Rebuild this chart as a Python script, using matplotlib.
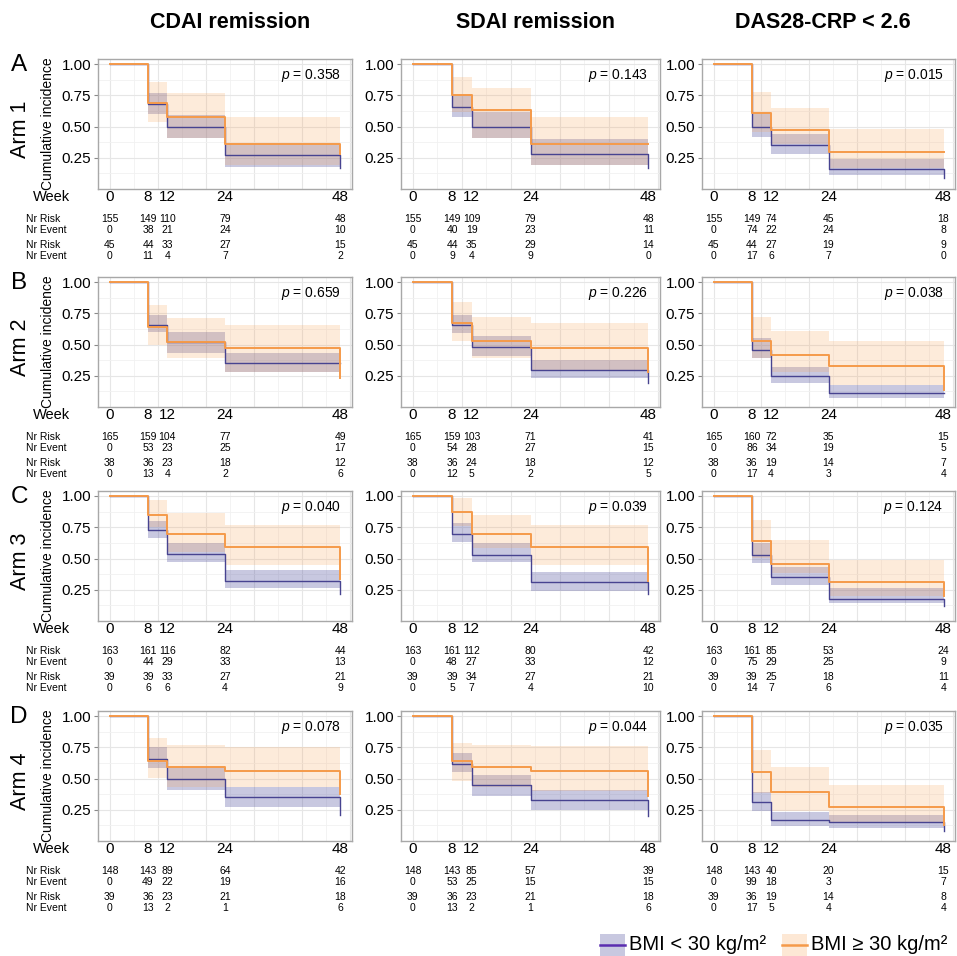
import matplotlib
matplotlib.use("Agg")
import matplotlib.pyplot as plt
from matplotlib.patches import Rectangle
from matplotlib.lines import Line2D
from matplotlib.ticker import MultipleLocator
from matplotlib import transforms

plt.rcParams['font.family'] = ['Liberation Sans', 'DejaVu Sans']
plt.rcParams['mathtext.fontset'] = 'custom'
plt.rcParams['mathtext.it'] = 'Liberation Sans:italic'
plt.rcParams['mathtext.rm'] = 'Liberation Sans'

weeks = [0, 8, 12, 24, 48]
outcomes = ["CDAI remission", "SDAI remission", "DAS28-CRP < 2.6"]
arms = ["Arm 1", "Arm 2", "Arm 3", "Arm 4"]
letters = ["A", "B", "C", "D"]

# panels in reading order: A1 A2 A3, B1 B2 B3, C1 C2 C3, D1 D2 D3
p_values = ["0.358", "0.143", "0.015",
            "0.659", "0.226", "0.038",
            "0.040", "0.039", "0.124",
            "0.078", "0.044", "0.035"]

# BMI < 30: curve value after week 8, 12, 24 and the drop at 48
low_est = [[0.68, 0.50, 0.27, 0.17], [0.66, 0.50, 0.28, 0.17], [0.50, 0.35, 0.16, 0.09],
           [0.66, 0.52, 0.35, 0.35], [0.66, 0.48, 0.30, 0.19], [0.46, 0.25, 0.11, 0.11],
           [0.73, 0.54, 0.32, 0.22], [0.70, 0.53, 0.31, 0.22], [0.53, 0.35, 0.18, 0.12],
           [0.66, 0.50, 0.35, 0.21], [0.62, 0.45, 0.33, 0.20], [0.31, 0.17, 0.15, 0.08]]
low_lo = [[0.60, 0.41, 0.18], [0.58, 0.41, 0.19], [0.42, 0.28, 0.11],
          [0.60, 0.43, 0.28], [0.59, 0.41, 0.23], [0.39, 0.19, 0.07],
          [0.66, 0.47, 0.26], [0.63, 0.47, 0.24], [0.46, 0.29, 0.14],
          [0.58, 0.41, 0.27], [0.55, 0.36, 0.25], [0.24, 0.12, 0.10]]
low_hi = [[0.77, 0.59, 0.36], [0.75, 0.62, 0.40], [0.60, 0.44, 0.24],
          [0.74, 0.60, 0.43], [0.74, 0.57, 0.38], [0.55, 0.32, 0.18],
          [0.80, 0.62, 0.41], [0.78, 0.62, 0.39], [0.62, 0.43, 0.26],
          [0.75, 0.59, 0.43], [0.70, 0.53, 0.41], [0.39, 0.23, 0.21]]

# BMI >= 30
high_est = [[0.69, 0.58, 0.36, 0.28], [0.75, 0.63, 0.36, 0.36], [0.61, 0.47, 0.30, 0.30],
            [0.64, 0.52, 0.47, 0.23], [0.67, 0.53, 0.47, 0.28], [0.53, 0.42, 0.33, 0.14],
            [0.85, 0.70, 0.59, 0.34], [0.87, 0.70, 0.59, 0.32], [0.64, 0.46, 0.31, 0.20],
            [0.64, 0.59, 0.56, 0.38], [0.64, 0.59, 0.56, 0.36], [0.55, 0.39, 0.27, 0.13]]
high_lo = [[0.54, 0.41, 0.19], [0.62, 0.41, 0.19], [0.46, 0.36, 0.17],
           [0.50, 0.39, 0.28], [0.53, 0.39, 0.30], [0.39, 0.28, 0.18],
           [0.75, 0.55, 0.45], [0.76, 0.58, 0.45], [0.50, 0.38, 0.20],
           [0.50, 0.43, 0.43], [0.48, 0.43, 0.40], [0.38, 0.24, 0.14]]
high_hi = [[0.86, 0.77, 0.58], [0.90, 0.81, 0.58], [0.78, 0.65, 0.48],
           [0.82, 0.71, 0.66], [0.84, 0.72, 0.67], [0.72, 0.61, 0.53],
           [0.97, 0.86, 0.77], [0.98, 0.85, 0.77], [0.81, 0.65, 0.49],
           [0.82, 0.77, 0.75], [0.78, 0.77, 0.76], [0.73, 0.59, 0.45]]

risk_low = [[155, 149, 110, 79, 48], [155, 149, 109, 79, 48], [155, 149, 74, 45, 18],
            [165, 159, 104, 77, 49], [165, 159, 103, 71, 41], [165, 160, 72, 35, 15],
            [163, 161, 116, 82, 44], [163, 161, 112, 80, 42], [163, 161, 85, 53, 24],
            [148, 143, 89, 64, 42], [148, 143, 85, 57, 39], [148, 143, 40, 20, 15]]
event_low = [[0, 38, 21, 24, 10], [0, 40, 19, 23, 11], [0, 74, 22, 24, 8],
             [0, 53, 23, 25, 17], [0, 54, 28, 27, 15], [0, 86, 34, 19, 5],
             [0, 44, 29, 33, 13], [0, 48, 27, 33, 12], [0, 75, 29, 25, 9],
             [0, 49, 22, 19, 16], [0, 53, 25, 15, 15], [0, 99, 18, 3, 7]]
risk_high = [[45, 44, 33, 27, 15], [45, 44, 35, 29, 14], [45, 44, 27, 19, 9],
             [38, 36, 23, 18, 12], [38, 36, 24, 18, 12], [38, 36, 19, 14, 7],
             [39, 39, 33, 27, 21], [39, 39, 34, 27, 21], [39, 39, 25, 18, 11],
             [39, 36, 23, 21, 18], [39, 36, 23, 21, 18], [39, 36, 19, 14, 8]]
event_high = [[0, 11, 4, 7, 2], [0, 9, 4, 9, 0], [0, 17, 6, 7, 0],
              [0, 13, 4, 2, 6], [0, 12, 5, 2, 5], [0, 17, 4, 3, 4],
              [0, 6, 6, 4, 9], [0, 5, 7, 4, 10], [0, 14, 7, 6, 4],
              [0, 13, 2, 1, 6], [0, 13, 2, 1, 6], [0, 17, 5, 4, 4]]

purple = "#474390"
purple_fill = "#4b4b9b"
orange = "#f59a4a"
orange_fill = "#f8a55a"

W, H = 957, 956
fig = plt.figure(figsize=(W / 100, H / 100), dpi=100)
fig.patch.set_facecolor("white")

col_x = [(98, 352), (401, 660), (702, 955)]
title_x = [230, 536, 823]
row_top = [59, 277, 491, 711]
ax_h = 130
tab_fs = 7.5


def fy(py):
    return 1 - py / H


for c, title in enumerate(outcomes):
    fig.text(title_x[c] / W, fy(23), title, ha="center", va="center",
             fontsize=15.5, fontweight="bold")

for r in range(4):
    for c in range(3):
        i = r * 3 + c
        l, rr = col_x[c]
        top = row_top[r]
        ax = fig.add_axes([l / W, fy(top + ax_h), (rr - l) / W, ax_h / H])
        ax.set_xlim(-2.4, 50.4)
        ax.set_ylim(0.0, 1.04)
        ax.set_xticks(range(0, 51, 10))
        ax.xaxis.set_minor_locator(MultipleLocator(5))
        ax.set_yticks([0.25, 0.5, 0.75, 1.0])
        ax.set_yticklabels(["0.25", "0.50", "0.75", "1.00"])
        ax.yaxis.set_minor_locator(MultipleLocator(0.125))
        ax.tick_params(axis="x", which="both", length=0, labelbottom=False)
        ax.tick_params(axis="y", which="major", length=3, color="#8a8a8a",
                       labelsize=11, pad=2)
        ax.tick_params(axis="y", which="minor", length=0)
        ax.grid(which="major", color="#e6e6e6", lw=0.8)
        ax.grid(which="minor", color="#f1f1f1", lw=0.6)
        ax.set_axisbelow(True)
        for s in ax.spines.values():
            s.set_color("#a8a8a8")
            s.set_linewidth(1.0)

        ax.fill_between(weeks[1:], low_lo[i] + [low_lo[i][-1]], low_hi[i] + [low_hi[i][-1]],
                        step="post", color=purple_fill, alpha=0.3, lw=0)
        ax.fill_between(weeks[1:], high_lo[i] + [high_lo[i][-1]], high_hi[i] + [high_hi[i][-1]],
                        step="post", color=orange_fill, alpha=0.22, lw=0)
        ax.step(weeks, [1.0] + low_est[i], where="post", color=purple, lw=1.0)
        ax.step(weeks, [1.0] + high_est[i], where="post", color=orange, lw=1.4)

        ax.text(0.955, 0.87, "$p$ = " + p_values[i], transform=ax.transAxes,
                ha="right", va="center", fontsize=10)

        # week labels and risk table under the panel
        bt = transforms.blended_transform_factory(ax.transData, fig.transFigure)
        bottom = top + ax_h
        for k, wk in enumerate(weeks):
            ax.text(wk, fy(bottom + 8), str(wk), transform=bt, ha="center",
                    va="center", fontsize=11)
            ax.text(wk, fy(bottom + 30), str(risk_low[i][k]), transform=bt,
                    ha="center", va="center", fontsize=tab_fs)
            ax.text(wk, fy(bottom + 41), str(event_low[i][k]), transform=bt,
                    ha="center", va="center", fontsize=tab_fs)
            ax.text(wk, fy(bottom + 56), str(risk_high[i][k]), transform=bt,
                    ha="center", va="center", fontsize=tab_fs)
            ax.text(wk, fy(bottom + 67), str(event_high[i][k]), transform=bt,
                    ha="center", va="center", fontsize=tab_fs)

        if c == 0:
            fig.text(70 / W, fy(bottom + 8), "Week", ha="right", va="center", fontsize=10.5)
            for dy, lab in [(30, "Nr Risk"), (41, "Nr Event"), (56, "Nr Risk"), (67, "Nr Event")]:
                fig.text(26 / W, fy(bottom + dy), lab, ha="left", va="center", fontsize=tab_fs)
            fig.text(48 / W, fy(top + ax_h / 2), "Cumulative incidence", rotation=90,
                     ha="center", va="center", fontsize=10)
            fig.text(20 / W, fy(top + 70), arms[r], rotation=90, ha="center",
                     va="center", fontsize=15.5)
            fig.text(19 / W, fy(top + 6), letters[r], ha="center", va="center",
                     fontsize=17.5)

# legend
leg_y = 945
for x0, fc, lc, label in [(600, purple_fill, "#5a2db0", "BMI < 30 kg/m²"),
                          (782, orange_fill, orange, "BMI ≥ 30 kg/m²")]:
    fig.add_artist(Rectangle((x0 / W, fy(leg_y + 11)), 25 / W, 22 / H,
                             transform=fig.transFigure, facecolor=fc,
                             alpha=0.3 if fc == purple_fill else 0.25, lw=0))
    fig.add_artist(Line2D([x0 / W, (x0 + 25) / W], [fy(leg_y), fy(leg_y)],
                          transform=fig.transFigure, color=lc, lw=1.8))
    fig.text((x0 + 29) / W, fy(leg_y), label, ha="left", va="center", fontsize=14.5)

fig.savefig("out.png", dpi=100, facecolor="white")
